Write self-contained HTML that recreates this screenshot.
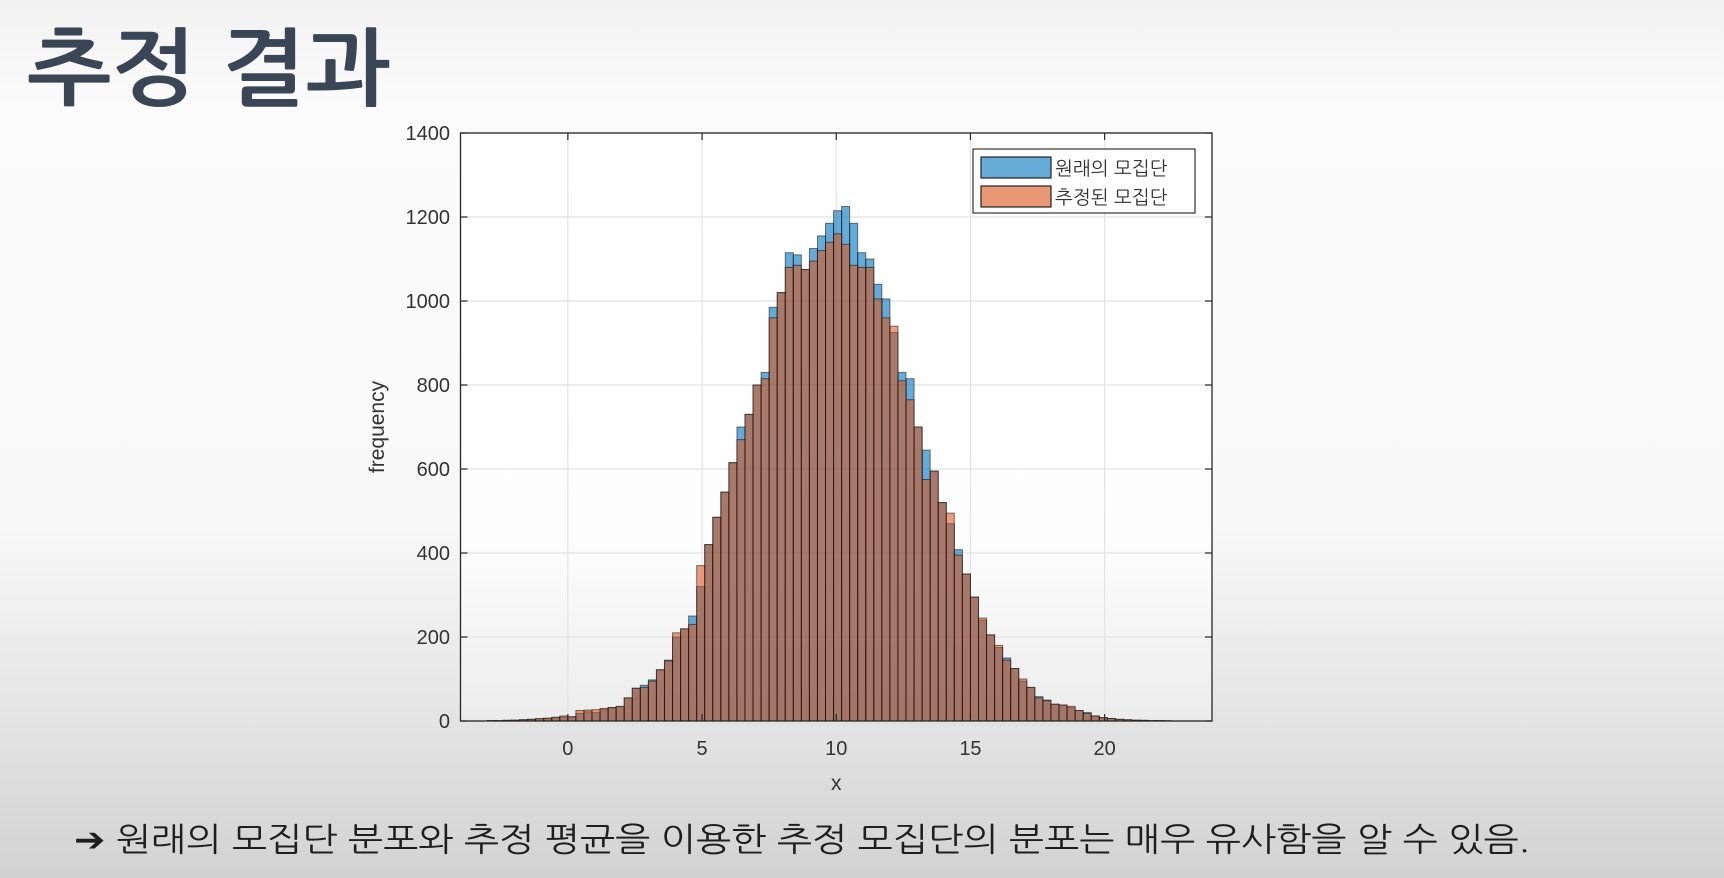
<!DOCTYPE html>
<html><head><meta charset="utf-8"><style>
html,body{margin:0;padding:0;width:1724px;height:878px;overflow:hidden}
svg{display:block}
</style></head><body>
<svg id="root" width="1724" height="878" viewBox="0 0 1724 878" xmlns="http://www.w3.org/2000/svg" font-family="Liberation Sans, NanumGothic, Noto Sans CJK KR, sans-serif">
<defs>
<linearGradient id="bg" x1="0" y1="0" x2="0" y2="1">
<stop offset="0" stop-color="#f2f2f2"/><stop offset="0.12" stop-color="#fbfbfb"/>
<stop offset="0.6" stop-color="#f8f8f8"/><stop offset="0.8" stop-color="#e6e6e6"/><stop offset="1" stop-color="#d2d2d2"/>
</linearGradient>
<linearGradient id="pbg" x1="0" y1="0" x2="0" y2="1">
<stop offset="0" stop-color="#ffffff"/><stop offset="0.7" stop-color="#fdfdfd"/><stop offset="1" stop-color="#ececec"/>
</linearGradient>
</defs>
<rect x="0" y="0" width="1724" height="878" fill="url(#bg)"/>
<text x="27" y="98" font-size="84" font-weight="bold" fill="#3a4556" textLength="363" lengthAdjust="spacingAndGlyphs" font-family="NanumGothic, Noto Sans CJK KR, sans-serif">추정 결과</text>
<g id="chart"></g>
<text x="74" y="851" font-size="33" fill="#1e1e1e" textLength="1456" lengthAdjust="spacingAndGlyphs" font-family="NanumGothic, Noto Sans CJK KR, sans-serif">➔ 원래의 모집단 분포와 추정 평균을 이용한 추정 모집단의 분포는 매우 유사함을 알 수 있음.</text>
</svg>
<script>
const binStart = -3.0;
const binWidth = 0.3;
const originalCounts = [1,1,2,2,3,4,5,6,8,10,10,18,22,20,28,32,34,55,78,85,98,122,145,200,218,250,320,420,485,545,615,700,730,800,830,985,1020,1115,1110,1075,1125,1155,1185,1215,1225,1185,1115,1100,1040,1005,925,830,815,700,645,595,520,470,408,350,295,240,205,175,150,125,95,80,58,50,40,38,32,25,20,12,8,6,4,3,2,2,1,1,0,0,0];
const estimatedCounts = [1,1,1,2,3,4,6,7,9,12,10,25,26,27,30,32,35,55,78,80,95,122,143,210,220,230,370,420,485,545,615,670,730,800,815,960,1020,1080,1085,1075,1095,1120,1140,1160,1135,1085,1080,1080,1005,960,940,810,765,700,575,595,520,495,395,350,295,245,205,180,145,125,100,80,55,48,40,38,35,25,18,12,8,6,4,3,2,1,1,1,1,0,0];
const xTicks = [0,5,10,15,20];
const yTicks = [0,200,400,600,800,1000,1200,1400];
const legendLabels = ['원래의 모집단','추정된 모집단'];

const NS='http://www.w3.org/2000/svg';
const L=460.5,R=1212,T=133,B=721,xmin=-4,xmax=24,ymin=0,ymax=1400;
const sx=v=>L+(v-xmin)/(xmax-xmin)*(R-L);
const sy=v=>B-(v-ymin)/(ymax-ymin)*(B-T);
const g=document.getElementById('chart');
function mk(tag,attrs,parent){const e=document.createElementNS(NS,tag);for(const k in attrs)e.setAttribute(k,attrs[k]);(parent||g).appendChild(e);return e;}

const plot=mk('rect',{x:L,y:T,width:R-L,height:B-T,fill:'url(#pbg)'});



xTicks.forEach(t=>{const l=mk('line',{x1:sx(t),x2:sx(t),y1:T,y2:B,stroke:'#e3e3e3','stroke-width':1.2});

});
yTicks.forEach(t=>{const l=mk('line',{x1:L,x2:R,y1:sy(t),y2:sy(t),stroke:'#e3e3e3','stroke-width':1.2});

});

function drawSeries(arr,fill,op,name){
  const sg=mk('g',{});
  
  
  arr.forEach((v,i)=>{
    if(v<=0)return;
    const x0=sx(binStart+i*binWidth),x1=sx(binStart+(i+1)*binWidth);
    const r=mk('rect',{x:x0,y:sy(v),width:x1-x0,height:sy(0)-sy(v),fill:fill,'fill-opacity':op,stroke:'#000','stroke-opacity':0.5,'stroke-width':1},sg);
    
    
  });
}
drawSeries(originalCounts,'#0072bd',0.6,'original-population');
drawSeries(estimatedCounts,'#d95319',0.56,'estimated-population');

const box=mk('rect',{x:L,y:T,width:R-L,height:B-T,fill:'none',stroke:'#262626','stroke-width':1.3});



xTicks.forEach(t=>{
  const tk=mk('line',{x1:sx(t),x2:sx(t),y1:B,y2:B-7,stroke:'#262626','stroke-width':1.2});
  
  
  const tk2=mk('line',{x1:sx(t),x2:sx(t),y1:T,y2:T+7,stroke:'#262626','stroke-width':1.2});
  
  
  const tx=mk('text',{x:sx(t),y:755,'font-size':20,'text-anchor':'middle',fill:'#333'});
  tx.textContent=t;
  
  
});
yTicks.forEach(t=>{
  const tk=mk('line',{x1:L,x2:L+7,y1:sy(t),y2:sy(t),stroke:'#262626','stroke-width':1.2});
  
  
  const tk2=mk('line',{x1:R,x2:R-7,y1:sy(t),y2:sy(t),stroke:'#262626','stroke-width':1.2});
  
  
  const tx=mk('text',{x:450,y:sy(t)+7,'font-size':20,'text-anchor':'end',fill:'#333'});
  tx.textContent=t;
  
  
});
const xl=mk('text',{x:(sx(10)),y:790,'font-size':21,'text-anchor':'middle',fill:'#333'});
xl.textContent='x';


const yl=mk('text',{x:0,y:0,'font-size':21,'text-anchor':'middle',fill:'#333',transform:'translate(384,427) rotate(-90)'});
yl.textContent='frequency';



const lg=mk('g',{});


const lb=mk('rect',{x:973,y:149,width:222,height:64,fill:'#fff',stroke:'#333','stroke-width':1.2},lg);


['#0072bd','#d95319'].forEach((c,i)=>{
  const p=mk('rect',{x:981,y:157+i*29,width:70,height:21,fill:c,'fill-opacity':0.6,stroke:'#222','stroke-width':1.2},lg);
  
  
  const t=mk('text',{x:1055,y:175+i*29,'font-size':19,fill:'#333','font-family':'NanumGothic, Noto Sans CJK KR, sans-serif'},lg);
  t.textContent=legendLabels[i];
  
  
});
</script>
</body></html>
